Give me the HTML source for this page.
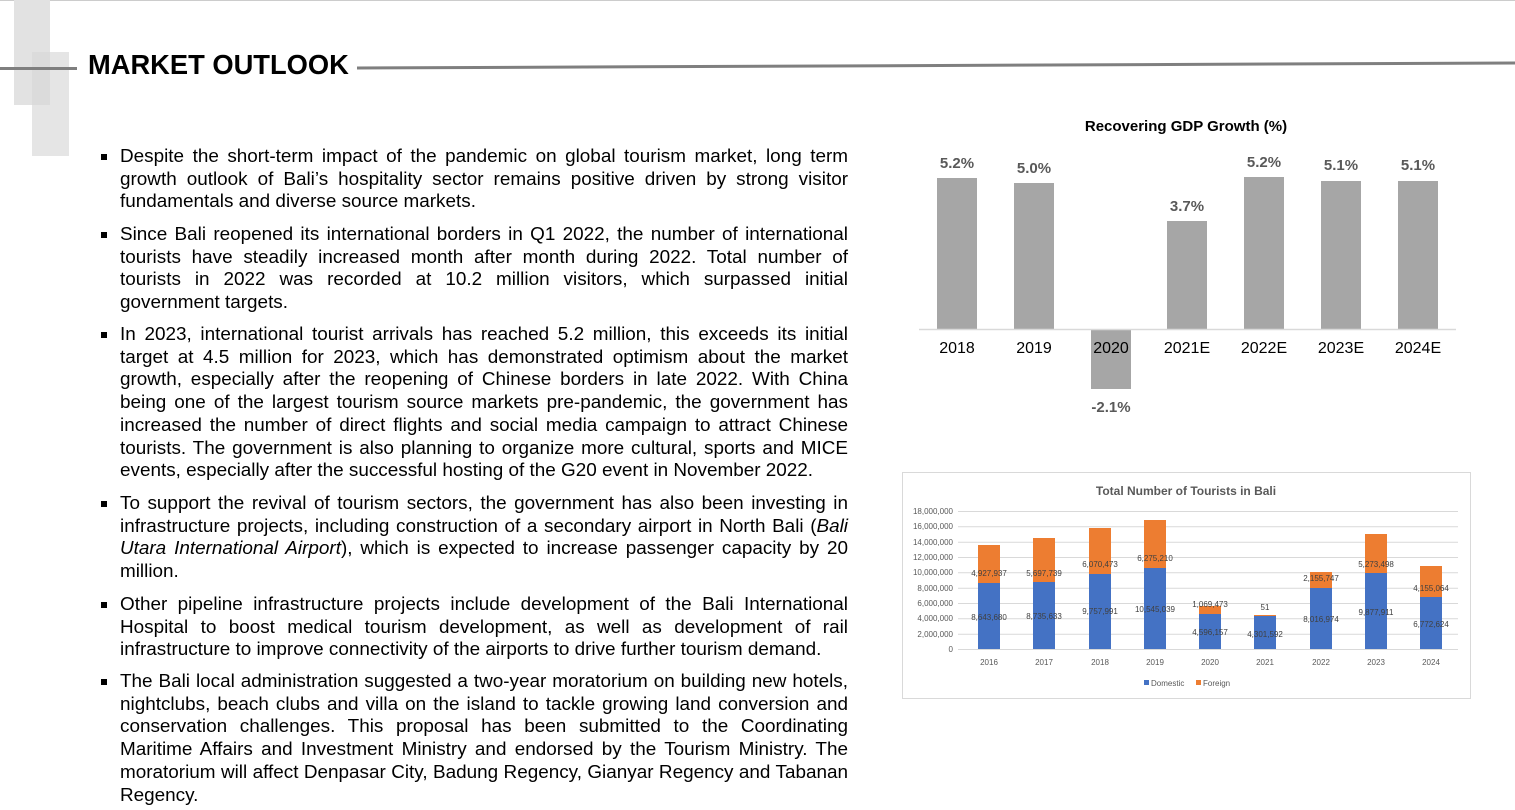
<!DOCTYPE html>
<html><head><meta charset="utf-8"><style>
body{margin:0;width:1515px;height:810px;background:#fff;position:relative;overflow:hidden;font-family:"Liberation Sans",Arial,sans-serif;}
.p{position:absolute;left:120px;width:728px;font-size:18.9px;line-height:22.7px;color:#000;}
.p:before{content:"";position:absolute;left:-19px;top:8px;width:6px;height:6px;background:#000;}
.p div{text-align:justify;text-align-last:justify;white-space:nowrap;}
.p div.l{text-align-last:left;}
</style></head><body>
<div style="position:absolute;left:0;top:0;width:1515px;height:1px;background:#ccc"></div>
<div style="position:absolute;left:14px;top:0;width:36px;height:105px;background:#e2e2e2"></div>
<div style="position:absolute;left:32px;top:52px;width:37px;height:104px;background:rgba(215,215,215,0.65)"></div>
<div style="position:absolute;left:0;top:67px;width:77px;height:3px;background:#7f7f7f"></div>
<svg style="position:absolute;left:0;top:0" width="1515" height="80"><line x1="357" y1="68" x2="1515" y2="63" stroke="#7f7f7f" stroke-width="3"/></svg>
<div style="position:absolute;left:88px;top:49px;font-size:27.3px;font-weight:bold;letter-spacing:0px">MARKET OUTLOOK</div>

<div class="p" style="top:146px">
<div>Despite the short-term impact of the pandemic on global tourism market, long term</div>
<div>growth outlook of Bali’s hospitality sector remains positive driven by strong visitor</div>
<div class="l">fundamentals and diverse source markets.</div></div>
<div class="p" style="top:224px">
<div>Since Bali reopened its international borders in Q1 2022, the number of international</div>
<div>tourists have steadily increased month after month during 2022. Total number of</div>
<div>tourists in 2022 was recorded at 10.2 million visitors, which surpassed initial</div>
<div class="l">government targets.</div></div>
<div class="p" style="top:324px">
<div>In 2023, international tourist arrivals has reached 5.2 million, this exceeds its initial</div>
<div>target at 4.5 million for 2023, which has demonstrated optimism about the market</div>
<div>growth, especially after the reopening of Chinese borders in late 2022. With China</div>
<div>being one of the largest tourism source markets pre-pandemic, the government has</div>
<div>increased the number of direct flights and social media campaign to attract Chinese</div>
<div>tourists. The government is also planning to organize more cultural, sports and MICE</div>
<div class="l">events, especially after the successful hosting of the G20 event in November 2022.</div></div>
<div class="p" style="top:493px">
<div>To support the revival of tourism sectors, the government has also been investing in</div>
<div>infrastructure projects, including construction of a secondary airport in North Bali (<i>Bali</i></div>
<div><i>Utara International Airport</i>), which is expected to increase passenger capacity by 20</div>
<div class="l">million.</div></div>
<div class="p" style="top:594px">
<div>Other pipeline infrastructure projects include development of the Bali International</div>
<div>Hospital to boost medical tourism development, as well as development of rail</div>
<div class="l">infrastructure to improve connectivity of the airports to drive further tourism demand.</div></div>
<div class="p" style="top:671px">
<div>The Bali local administration suggested a two-year moratorium on building new hotels,</div>
<div>nightclubs, beach clubs and villa on the island to tackle growing land conversion and</div>
<div>conservation challenges. This proposal has been submitted to the Coordinating</div>
<div>Maritime Affairs and Investment Ministry and endorsed by the Tourism Ministry. The</div>
<div>moratorium will affect Denpasar City, Badung Regency, Gianyar Regency and Tabanan</div>
<div class="l">Regency.</div></div>

<svg style="position:absolute;left:0;top:0" width="1515" height="810" font-family="Liberation Sans, Arial, sans-serif">
<text x="1186" y="131" font-size="15" font-weight="bold" text-anchor="middle">Recovering GDP Growth (%)</text>
<g fill="#a6a6a6">
<rect x="937" y="178" width="40" height="151"/>
<rect x="1014" y="183" width="40" height="146"/>
<rect x="1091" y="329" width="40" height="60"/>
<rect x="1167" y="221" width="40" height="108"/>
<rect x="1244" y="177" width="40" height="152"/>
<rect x="1321" y="181" width="40" height="148"/>
<rect x="1398" y="181" width="40" height="148"/>
</g>
<line x1="919" y1="329.5" x2="1456" y2="329.5" stroke="#d9d9d9" stroke-width="1.5"/>
<g font-size="15" font-weight="bold" fill="#595959" text-anchor="middle">
<text x="957" y="168">5.2%</text><text x="1034" y="173">5.0%</text><text x="1111" y="412">-2.1%</text>
<text x="1187" y="211">3.7%</text><text x="1264" y="167">5.2%</text><text x="1341" y="170">5.1%</text><text x="1418" y="170">5.1%</text>
</g>
<g font-size="16" fill="#000" text-anchor="middle">
<text x="957" y="353">2018</text><text x="1034" y="353">2019</text><text x="1111" y="353">2020</text>
<text x="1187" y="353">2021E</text><text x="1264" y="353">2022E</text><text x="1341" y="353">2023E</text><text x="1418" y="353">2024E</text>
</g>

<rect x="902.5" y="472.5" width="568" height="226" fill="#fff" stroke="#d9d9d9"/>
<text x="1186" y="495" font-size="12" font-weight="bold" fill="#595959" text-anchor="middle">Total Number of Tourists in Bali</text>
<g stroke="#d9d9d9" stroke-width="1">
<line x1="958" y1="511.5" x2="1458" y2="511.5"/><line x1="958" y1="526.8" x2="1458" y2="526.8"/>
<line x1="958" y1="542.2" x2="1458" y2="542.2"/><line x1="958" y1="557.5" x2="1458" y2="557.5"/>
<line x1="958" y1="572.8" x2="1458" y2="572.8"/><line x1="958" y1="588.2" x2="1458" y2="588.2"/>
<line x1="958" y1="603.5" x2="1458" y2="603.5"/><line x1="958" y1="618.8" x2="1458" y2="618.8"/>
<line x1="958" y1="634.2" x2="1458" y2="634.2"/><line x1="958" y1="649.5" x2="1458" y2="649.5"/>
</g>
<g font-size="8" fill="#595959" text-anchor="end">
<text x="953" y="514">18,000,000</text><text x="953" y="529">16,000,000</text><text x="953" y="545">14,000,000</text>
<text x="953" y="560">12,000,000</text><text x="953" y="575">10,000,000</text><text x="953" y="591">8,000,000</text>
<text x="953" y="606">6,000,000</text><text x="953" y="621">4,000,000</text><text x="953" y="637">2,000,000</text><text x="953" y="652">0</text>
</g>
<g fill="#4472c4">
<rect x="978" y="583" width="22" height="66"/><rect x="1033" y="582" width="22" height="67"/>
<rect x="1089" y="574" width="22" height="75"/><rect x="1144" y="568" width="22" height="81"/>
<rect x="1199" y="614" width="22" height="35"/><rect x="1254" y="616" width="22" height="33"/>
<rect x="1310" y="588" width="22" height="61"/><rect x="1365" y="573" width="22" height="76"/>
<rect x="1420" y="597" width="22" height="52"/>
</g>
<g fill="#ed7d31">
<rect x="978" y="545" width="22" height="38"/><rect x="1033" y="538" width="22" height="44"/>
<rect x="1089" y="528" width="22" height="46"/><rect x="1144" y="520" width="22" height="48"/>
<rect x="1199" y="606" width="22" height="8"/><rect x="1254" y="615" width="22" height="1"/>
<rect x="1310" y="572" width="22" height="16"/><rect x="1365" y="534" width="22" height="39"/>
<rect x="1420" y="566" width="22" height="31"/>
</g>
<g font-size="8" fill="#404040" text-anchor="middle">
<text x="989" y="576">4,927,937</text><text x="1044" y="576">5,697,739</text><text x="1100" y="567">6,070,473</text>
<text x="1155" y="561">6,275,210</text><text x="1210" y="607">1,069,473</text><text x="1265" y="610">51</text>
<text x="1321" y="581">2,155,747</text><text x="1376" y="567">5,273,498</text><text x="1431" y="591">4,155,064</text>
<text x="989" y="620">8,643,680</text><text x="1044" y="619">8,735,633</text><text x="1100" y="614">9,757,991</text>
<text x="1155" y="612">10,545,039</text><text x="1210" y="635">4,596,157</text><text x="1265" y="637">4,301,592</text>
<text x="1321" y="622">8,016,974</text><text x="1376" y="615">9,877,911</text><text x="1431" y="627">6,772,624</text>
</g>
<g font-size="8" fill="#595959" text-anchor="middle">
<text x="989" y="665">2016</text><text x="1044" y="665">2017</text><text x="1100" y="665">2018</text>
<text x="1155" y="665">2019</text><text x="1210" y="665">2020</text><text x="1265" y="665">2021</text>
<text x="1321" y="665">2022</text><text x="1376" y="665">2023</text><text x="1431" y="665">2024</text>
</g>
<rect x="1144" y="680" width="5" height="5" fill="#4472c4"/>
<text x="1151" y="686" font-size="8" fill="#595959">Domestic</text>
<rect x="1196" y="680" width="5" height="5" fill="#ed7d31"/>
<text x="1203" y="686" font-size="8" fill="#595959">Foreign</text>
</svg>
</body></html>
